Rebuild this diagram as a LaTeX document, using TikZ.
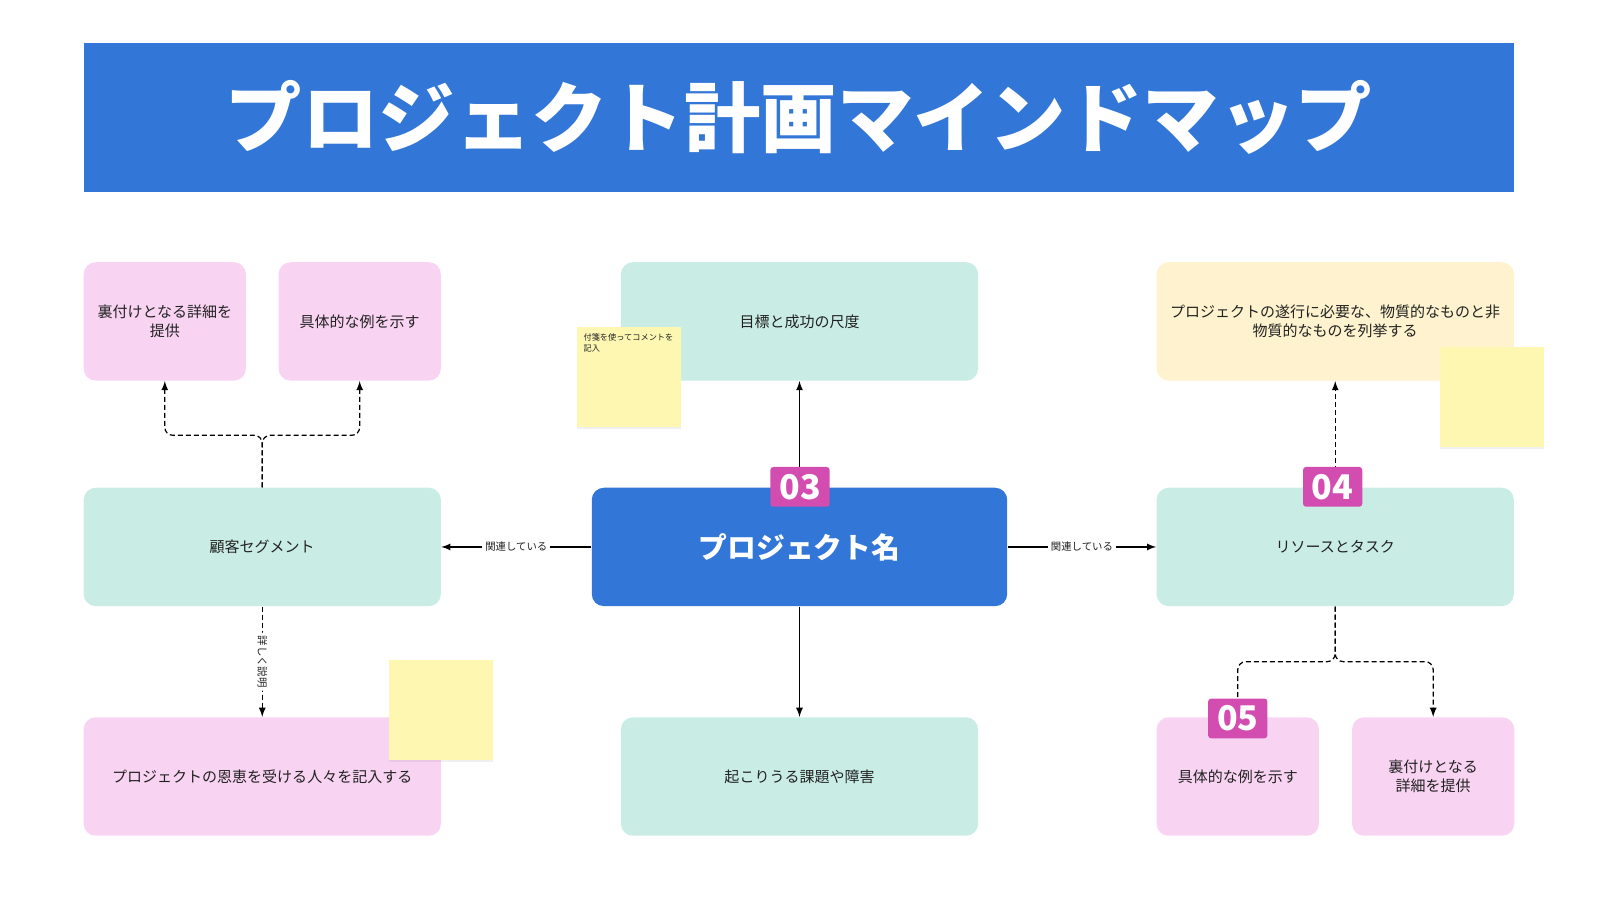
\documentclass[tikz,border=0pt]{standalone}
\usepackage{fontspec}
\setmainfont{Noto Sans CJK JP}
\usetikzlibrary{calc}
\usetikzlibrary{positioning}
\usetikzlibrary{shadows}
\definecolor{pmblue}{HTML}{3276D8}
\definecolor{pmmint}{HTML}{C9EDE4}
\definecolor{pmpink}{HTML}{F8D3F2}
\definecolor{pmcream}{HTML}{FEF3CE}
\definecolor{pmsticky}{HTML}{FDF7B2}
\definecolor{pmmagenta}{HTML}{D34CB0}
\definecolor{pmtext}{HTML}{222222}
\tikzstyle{boxnode} = [rounded corners=6pt, minimum height=59.2pt, inner sep=3pt, text=pmtext, align=center, font=\fontsize{7.5}{9.7}\selectfont]
\tikzstyle{widebox} = [boxnode, minimum width=178.6pt]
\tikzstyle{smallbox} = [boxnode, minimum width=81.1pt]
\tikzstyle{colorMint} = [fill=pmmint]
\tikzstyle{colorPink} = [fill=pmpink]
\tikzstyle{colorCream} = [fill=pmcream]
\tikzstyle{badgenode} = [fill=pmmagenta, rounded corners=1.5pt, minimum width=29.6pt, minimum height=19.9pt, inner sep=0pt, text=white, font=\bfseries\fontsize{17}{17}\selectfont]
\tikzstyle{stickynode} = [fill=pmsticky, minimum width=52pt, minimum height=50pt, inner sep=0pt, drop shadow={shadow xshift=0pt, shadow yshift=-1pt, opacity=0.12}]
\tikzstyle{linkline} = [draw=black, line width=0.6pt, -latex]
\tikzstyle{dashlink} = [linkline, dash pattern=on 2.5pt off 1.5pt, rounded corners=4pt]
\tikzstyle{linklabel} = [fill=white, inner sep=1.5pt, font=\fontsize{5.2}{6}\selectfont, text=pmtext]

\begin{document}
\begin{tikzpicture}[x=0.5102pt, y=-0.5102pt]
    \useasboundingbox (0,0) rectangle (1568,882);

    \node[boxnode, fill=pmblue, minimum width=207.7pt, text=white, font=\bfseries\fontsize{14.4}{16}\selectfont] (pm_proj) at (783.5,536) {プロジェクト名};
    \node[fill=pmblue, minimum width=715.3pt, minimum height=74.5pt, inner sep=0pt, text=white, font=\bfseries\fontsize{38.2}{40}\selectfont] (pm_title) at ($(pm_proj)+(-0.5,-421)$) {プロジェクト計画マインドマップ};

    \node[widebox, colorMint] (pm_goal) at ($(pm_proj)+(0,-221)$) {目標と成功の尺度};
    \node[widebox, colorMint] (pm_risk) at ($(pm_proj)+(0,225)$) {起こりうる課題や障害};
    \node[widebox, colorMint] (pm_seg) at ($(pm_proj)+(-526.5,0)$) {顧客セグメント};
    \node[widebox, colorPink] (pm_people) at ($(pm_seg)+(0,225)$) {プロジェクトの恩恵を受ける人々を記入する};
    \node[smallbox, colorPink] (pm_seg_sup) at ($(pm_proj)+(-622,-221)$) {裏付けとなる詳細を\\提供};
    \node[smallbox, colorPink] (pm_seg_ex) at ($(pm_proj)+(-431,-221)$) {具体的な例を示す};
    \node[widebox, colorMint] (pm_res) at ($(pm_proj)+(525,0)$) {リソースとタスク};
    \node[widebox, colorCream] (pm_res_list) at ($(pm_res)+(0,-221)$) {プロジェクトの遂行に必要な、物質的なものと非\\物質的なものを列挙する};
    \node[smallbox, colorPink] (pm_res_ex) at ($(pm_proj)+(429.5,225)$) {具体的な例を示す};
    \node[smallbox, colorPink] (pm_res_sup) at ($(pm_proj)+(621,225)$) {裏付けとなる\\詳細を提供};

    \coordinate (seg_fork) at ($(pm_seg.north)+(0,-51)$);
    \coordinate (res_fork) at ($(pm_res.south)+(0,54)$);

    \draw[linkline] (pm_proj.west) -- node[linklabel] {関連している} (pm_seg.east);
    \draw[linkline] (pm_proj.east) -- node[linklabel] {関連している} (pm_res.west);
    \draw[linkline] (pm_proj.north) -- (pm_goal.south);
    \draw[linkline] (pm_proj.south) -- (pm_risk.north);
    \draw[dashlink] (pm_seg.north) -- (seg_fork) -| (pm_seg_sup.south);
    \draw[dashlink] (pm_seg.north) -- (seg_fork) -| (pm_seg_ex.south);
    \draw[dashlink] (pm_seg.south) -- node[linklabel, rotate=-90] {詳しく説明} (pm_people.north);
    \draw[dashlink] (pm_res.north) -- (pm_res_list.south);
    \draw[dashlink] (pm_res.south) -- (res_fork) -| (pm_res_ex.north);
    \draw[dashlink] (pm_res.south) -- (res_fork) -| (pm_res_sup.north);

    \node[badgenode] (pm_badge03) at ($(pm_proj.north)+(0.5,-0.5)$) {03};
    \node[badgenode] (pm_badge04) at ($(pm_res.north)+(-2.5,-0.5)$) {04};
    \node[badgenode] (pm_badge05) at ($(pm_res_ex.north)+(0,1.5)$) {05};

    \node[stickynode, label={[anchor=north west, inner xsep=3.5pt, inner ysep=3.5pt, align=left, text=pmtext, font=\fontsize{4.1}{5.6}\selectfont]north west:{付箋を使ってコメントを\\記入}}] (pm_note1) at ($(pm_proj)+(-167.5,-167)$) {};
    \node[stickynode] (pm_note2) at ($(pm_res)+(153.5,-147)$) {};
    \node[stickynode] (pm_note3) at ($(pm_seg)+(175.5,160)$) {};
\end{tikzpicture}
\end{document}
